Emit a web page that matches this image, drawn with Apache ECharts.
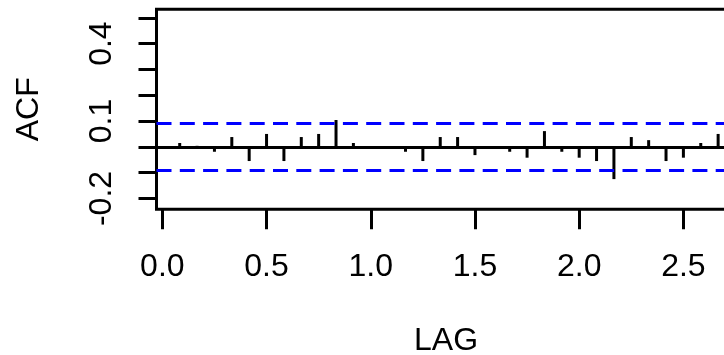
<!DOCTYPE html>
<html>
<head>
<meta charset="utf-8">
<script src="https://cdn.jsdelivr.net/npm/echarts@6/dist/echarts.min.js"></script>
<style>
  html, body { margin: 0; padding: 0; background: #fff; }
  #chart { width: 724px; height: 355px; }
</style>
</head>
<body>
<div id="chart"></div>
<script>
// lags in years (frequency 12), lag 1..32
const lags = [];
for (let k = 1; k <= 32; k++) lags.push(k / 12);
const acfValues = [
    0.015, 0.004, -0.019, 0.038, -0.055, 0.050, -0.055, 0.038, 0.050, 0.104,
    0.015, 0.003, -0.003, -0.019, -0.055, 0.038, 0.038, -0.032, 0.003, -0.019,
    -0.042, 0.061, -0.019, -0.042, -0.055, -0.125, 0.038, 0.026, -0.055, -0.042,
    0.015, 0.050
];
const bound = 0.086; // +- confidence band
const xTicks = [0, 0.5, 1, 1.5, 2, 2.5];
const yTicks = [-0.2, -0.1, 0, 0.1, 0.2, 0.3, 0.4, 0.5];
const yLabels = [-0.2, 0.1, 0.4];

const chart = echarts.init(document.getElementById('chart'));
const font = 'Liberation Sans, Arial, sans-serif';
const lw = 3;

// vertical spike from 0 to the acf value
function renderSpike(params, api) {
    const p0 = api.coord([api.value(0), 0]);
    const p1 = api.coord([api.value(0), api.value(1)]);
    return {
        type: 'line',
        shape: {x1: p0[0], y1: p0[1], x2: p1[0], y2: p1[1]},
        style: {stroke: '#000', lineWidth: lw}
    };
}

const option = {
    backgroundColor: '#fff',
    animation: false,
    grid: {
        left: 156.5,
        top: 9.3,
        width: 579,
        height: 200,
        outerBoundsMode: 'none',
        containLabel: false,
        show: true,
        borderColor: '#000',
        borderWidth: lw,
        backgroundColor: 'transparent'
    },
    xAxis: {
        type: 'value',
        min: -0.028,
        max: 2.75,
        name: 'LAG',
        nameLocation: 'middle',
        nameGap: 116,
        nameTextStyle: {color: '#000', fontSize: 32, fontFamily: font},
        axisLine: {show: false, onZero: false},
        splitLine: {show: false},
        axisTick: {
            show: true,
            length: 20,
            customValues: xTicks,
            lineStyle: {color: '#000', width: lw}
        },
        axisLabel: {
            customValues: xTicks,
            color: '#000',
            fontSize: 32,
            fontFamily: font,
            margin: 42,
            formatter: v => v.toFixed(1)
        }
    },
    yAxis: {
        type: 'value',
        min: -0.242,
        max: 0.533,
        name: 'ACF',
        nameLocation: 'middle',
        nameRotate: 90,
        nameGap: 111,
        nameTextStyle: {color: '#000', fontSize: 32, fontFamily: font},
        axisLine: {show: false, onZero: false},
        splitLine: {show: false},
        axisTick: {
            show: true,
            length: 18,
            customValues: yTicks,
            lineStyle: {color: '#000', width: lw}
        },
        axisLabel: {
            customValues: yLabels,
            rotate: 90,
            color: '#000',
            fontSize: 32,
            fontFamily: font,
            margin: 38,
            formatter: v => v.toFixed(1)
        }
    },
    series: [
        {
            type: 'custom',
            renderItem: renderSpike,
            encode: {x: 0, y: 1},
            data: lags.map((x, i) => [x, acfValues[i]]),
            markLine: {
                silent: true,
                symbol: 'none',
                label: {show: false},
                data: [
                    {yAxis: 0, lineStyle: {color: '#000', width: lw, type: 'solid'}},
                    {yAxis: bound, lineStyle: {color: '#0000ff', width: lw, type: [15, 8.3]}},
                    {yAxis: -bound, lineStyle: {color: '#0000ff', width: lw, type: [15, 8.3]}}
                ]
            }
        }
    ]
};
chart.setOption(option);
</script>
</body>
</html>
